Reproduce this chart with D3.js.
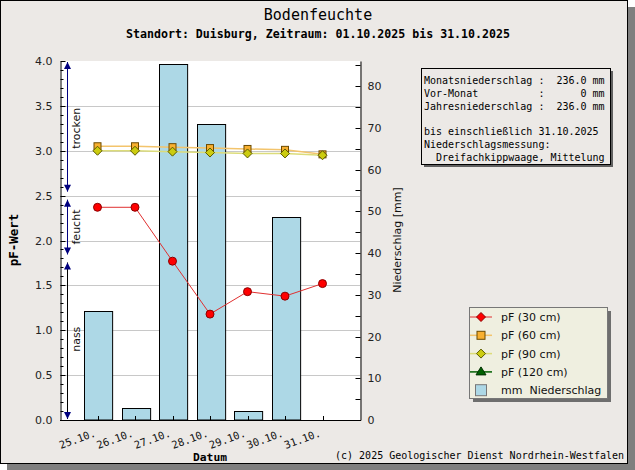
<!DOCTYPE html>
<html>
<head>
<meta charset="utf-8">
<script src="https://cdn.jsdelivr.net/npm/d3@7"></script>
<style>
  body { margin: 0; background: #ffffff; }
  svg text { white-space: pre; }
</style>
</head>
<body>
<div id="chart"></div>
<script>
// values
const days = ['25.10.', '26.10.', '27.10.', '28.10.', '29.10.', '30.10.', '31.10.'];
const pf30 = [2.37, 2.37, 1.77, 1.18, 1.43, 1.38, 1.52];
const pf60 = [3.05, 3.05, 3.04, 3.03, 3.02, 3.01, 2.96];
const pf90 = [3.00, 3.00, 2.99, 2.98, 2.97, 2.97, 2.95];
const rain = [26.0, 2.8, 85.4, 71.0, 2.2, 48.6, 0];
const pfTicks = [0, 0.5, 1.0, 1.5, 2.0, 2.5, 3.0, 3.5, 4.0];
const rainTicks = [0, 10, 20, 30, 40, 50, 60, 70, 80];
const zoneLabels = ['trocken', 'feucht', 'nass'];
const zoneFrom = [4.0, 2.5, 1.8];
const zoneTo = [2.5, 1.8, 0.0];
const legendLabels = ['pF (30 cm)', 'pF (60 cm)', 'pF (90 cm)', 'pF (120 cm)', 'mm  Niederschlag'];
const infoLines = [
  'Monatsniederschlag :  236.0 mm',
  'Vor-Monat          :      0 mm',
  'Jahresniederschlag :  236.0 mm',
  '',
  'bis einschließlich 31.10.2025',
  'Niederschlagsmessung:',
  '  Dreifachkippwaage, Mittelung'
];

const W = 635, H = 470;
const plot = { left: 60, right: 360, top: 61, bottom: 420 };
const mono = '"DejaVu Sans Mono", monospace';
const sans = '"DejaVu Sans", sans-serif';

const svg = d3.select('#chart').append('svg')
  .attr('width', W).attr('height', H);

// frame with shadow
svg.append('rect').attr('x', 7).attr('y', 7).attr('width', 628).attr('height', 463).attr('fill', '#7f7f7f');
svg.append('rect').attr('x', 0.5).attr('y', 0.5).attr('width', 627).attr('height', 463)
  .attr('fill', '#ece9e6').attr('stroke', '#000');

// scales
const x = d3.scalePoint().domain(days).range([plot.left, plot.right]).padding(1);
const y = d3.scaleLinear().domain([0, 4]).range([plot.bottom, plot.top]);
const y2 = d3.scaleLinear().domain([0, 86]).range([plot.bottom, plot.top]);
const barW = x.step() * 0.75;

// plot background + grid
svg.append('rect').attr('x', plot.left).attr('y', plot.top)
  .attr('width', plot.right - plot.left).attr('height', plot.bottom - plot.top).attr('fill', '#fff');
svg.append('g').selectAll('line').data(pfTicks.slice(1, -1)).join('line')
  .attr('x1', plot.left).attr('x2', plot.right)
  .attr('y1', d => Math.round(y(d)) + 0.5).attr('y2', d => Math.round(y(d)) + 0.5)
  .attr('stroke', '#c8c8c8');

// bars
svg.append('g').selectAll('rect').data(rain.map((v, i) => ({ day: days[i], v }))).join('rect')
  .filter(d => d.v > 0)
  .attr('x', d => Math.round(x(d.day) - barW / 2 + 1) + 0.5)
  .attr('y', d => Math.round(y2(d.v)) + 0.5)
  .attr('width', barW)
  .attr('height', d => plot.bottom - Math.round(y2(d.v)) - 0.5)
  .attr('fill', '#add8e6').attr('stroke', '#000');

// x ticks (inside)
svg.append('g').selectAll('line').data(days).join('line')
  .attr('x1', d => Math.round(x(d)) + 0.5).attr('x2', d => Math.round(x(d)) + 0.5)
  .attr('y1', plot.bottom).attr('y2', plot.bottom - 4).attr('stroke', '#000');

// left axis
const leftAxis = d3.axisLeft(y).tickValues(pfTicks).tickFormat(d3.format('.1f')).tickSize(0).tickPadding(8);
const gl = svg.append('g').attr('transform', `translate(${plot.left + 0.5},0)`).call(leftAxis);
gl.select('.domain').attr('stroke', '#000');
gl.selectAll('text').attr('font-family', sans).attr('font-size', 11).attr('fill', '#222');
const minorPf = d3.range(0, 40.5, 1).map(d => d / 10);
gl.append('g').selectAll('line').data(minorPf).join('line')
  .attr('x1', 0).attr('x2', d => (Math.round(d * 10) % 5 === 0 ? 5 : 3))
  .attr('y1', d => Math.round(y(d)) + 0.5).attr('y2', d => Math.round(y(d)) + 0.5)
  .attr('stroke', '#000');

// right axis
const rightAxis = d3.axisRight(y2).tickValues(rainTicks).tickSize(0).tickPadding(7);
const gr = svg.append('g').attr('transform', `translate(${plot.right + 0.5},0)`).call(rightAxis);
gr.select('.domain').attr('stroke', '#000');
gr.selectAll('text').attr('font-family', sans).attr('font-size', 11).attr('fill', '#222');
gr.append('g').selectAll('line').data(d3.range(0, 86, 5)).join('line')
  .attr('x1', 0).attr('x2', -5)
  .attr('y1', d => Math.round(y2(d)) + 0.5).attr('y2', d => Math.round(y2(d)) + 0.5)
  .attr('stroke', '#000');

// bottom axis line
svg.append('line').attr('x1', plot.left).attr('x2', plot.right + 1)
  .attr('y1', plot.bottom + 0.5).attr('y2', plot.bottom + 0.5).attr('stroke', '#000');

// x labels
svg.append('g').selectAll('text').data(days).join('text')
  .attr('transform', d => `translate(${x(d) - 1},${plot.bottom + 16}) rotate(-20)`)
  .attr('text-anchor', 'end').attr('font-family', mono).attr('font-size', 10.5).attr('fill', '#111')
  .text(d => d);

// zone arrows
const ax = 67.5;
const zones = svg.append('g');
zoneLabels.forEach((lab, i) => {
  const y1 = y(zoneFrom[i]) + (i === 0 ? 1 : 4);
  const y2p = y(zoneTo[i]) - (i === 2 ? 1 : 4);
  zones.append('line').attr('x1', ax).attr('x2', ax).attr('y1', y1).attr('y2', y2p)
    .attr('stroke', i === 2 ? '#000' : '#00007f').attr('stroke-width', 1);
  zones.append('path').attr('d', `M${ax},${y1} l-3.5,7 l7,0 z`).attr('fill', '#00007f');
  zones.append('path').attr('d', `M${ax},${y2p} l-3.5,-7 l7,0 z`).attr('fill', '#00007f');
  const mid = (y(zoneFrom[i]) + y(zoneTo[i])) / 2;
  zones.append('text')
    .attr('transform', `translate(${ax + 12},${mid}) rotate(-90)`)
    .attr('text-anchor', 'middle').attr('font-family', sans).attr('font-size', 11).attr('fill', '#111')
    .text(lab);
});

// pF lines
const line = d3.line().x((d, i) => x(days[i])).y(d => y(d));
svg.append('path').attr('d', line(pf60)).attr('fill', 'none').attr('stroke', '#f3c46c').attr('stroke-width', 1.5);
svg.append('path').attr('d', line(pf90)).attr('fill', 'none').attr('stroke', '#dcdc7a').attr('stroke-width', 1.5);
svg.append('path').attr('d', line(pf30)).attr('fill', 'none').attr('stroke', '#e03030').attr('stroke-width', 1);

// markers
svg.append('g').selectAll('rect').data(pf60).join('rect')
  .attr('x', (d, i) => x(days[i]) - 3.5).attr('y', d => y(d) - 3.5)
  .attr('width', 7).attr('height', 7)
  .attr('fill', '#f8b030').attr('stroke', '#6b4a00');
svg.append('g').selectAll('path').data(pf90).join('path')
  .attr('d', (d, i) => `M${x(days[i])},${y(d) - 4.5} l4.5,4.5 l-4.5,4.5 l-4.5,-4.5 z`)
  .attr('fill', '#cccc10').attr('stroke', '#5a5a00');
svg.append('g').selectAll('circle').data(pf30).join('circle')
  .attr('cx', (d, i) => x(days[i])).attr('cy', d => y(d)).attr('r', 4)
  .attr('fill', '#ff0000').attr('stroke', '#8b0000');

// titles
svg.append('text').attr('x', 318).attr('y', 20).attr('text-anchor', 'middle')
  .attr('font-family', mono).attr('font-size', 15).attr('fill', '#000').text('Bodenfeuchte');
svg.append('text').attr('x', 318).attr('y', 38).attr('text-anchor', 'middle')
  .attr('font-family', mono).attr('font-weight', 'bold').attr('font-size', 11.6).attr('fill', '#000')
  .text('Standort: Duisburg, Zeitraum: 01.10.2025 bis 31.10.2025');
svg.append('text').attr('transform', 'translate(18,240) rotate(-90)').attr('text-anchor', 'middle')
  .attr('font-family', mono).attr('font-weight', 'bold').attr('font-size', 12.5).attr('fill', '#000').text('pF-Wert');
svg.append('text').attr('transform', 'translate(401,240) rotate(-90)').attr('text-anchor', 'middle')
  .attr('font-family', sans).attr('font-size', 11).attr('fill', '#111').text('Niederschlag [mm]');
svg.append('text').attr('x', 210).attr('y', 461).attr('text-anchor', 'middle')
  .attr('font-family', mono).attr('font-weight', 'bold').attr('font-size', 11.3).attr('fill', '#000').text('Datum');
svg.append('text').attr('x', 624).attr('y', 459).attr('text-anchor', 'end')
  .attr('font-family', mono).attr('font-size', 10).attr('fill', '#000')
  .text('(c) 2025 Geologischer Dienst Nordrhein-Westfalen');

// info box
svg.append('rect').attr('x', 424).attr('y', 71).attr('width', 189).attr('height', 96).attr('fill', '#606060');
svg.append('rect').attr('x', 421.5).attr('y', 68.5).attr('width', 189).attr('height', 96)
  .attr('fill', '#ece9e6').attr('stroke', '#000');
svg.append('g').selectAll('text').data(infoLines).join('text')
  .attr('x', 424).attr('y', (d, i) => 84 + i * 12.8)
  .attr('font-family', mono).attr('font-size', 10).attr('fill', '#000')
  .text(d => d);

// legend
const lg = svg.append('g');
lg.append('rect').attr('x', 473).attr('y', 311).attr('width', 138).attr('height', 91).attr('fill', '#6e6e6e');
lg.append('rect').attr('x', 469.5).attr('y', 307.5).attr('width', 138).attr('height', 91)
  .attr('fill', '#efefe0').attr('stroke', '#777');
const legendColors = ['#e03030', '#f3c46c', '#dcdc7a', '#006000'];
legendLabels.forEach((lab, i) => {
  const cy = 317 + i * 18.3;
  const cx = 481;
  if (i < 4) {
    lg.append('line').attr('x1', cx - 11).attr('x2', cx + 11).attr('y1', cy).attr('y2', cy)
      .attr('stroke', legendColors[i]).attr('stroke-width', i === 0 ? 1 : 1.5);
  }
  if (i === 0) lg.append('path').attr('d', `M${cx},${cy - 4.5} l4.5,4.5 l-4.5,4.5 l-4.5,-4.5 z`)
    .attr('fill', '#ff0000').attr('stroke', '#8b0000');
  if (i === 1) lg.append('rect').attr('x', cx - 4).attr('y', cy - 4).attr('width', 8).attr('height', 8)
    .attr('fill', '#f8b030').attr('stroke', '#6b4a00');
  if (i === 2) lg.append('path').attr('d', `M${cx},${cy - 4.5} l4.5,4.5 l-4.5,4.5 l-4.5,-4.5 z`)
    .attr('fill', '#cccc10').attr('stroke', '#5a5a00');
  if (i === 3) lg.append('path').attr('d', `M${cx},${cy - 5} l5,8 l-10,0 z`)
    .attr('fill', '#006000').attr('stroke', '#003000');
  if (i === 4) lg.append('rect').attr('x', cx - 5.5).attr('y', cy - 5.5).attr('width', 11).attr('height', 11)
    .attr('fill', '#add8e6').attr('stroke', '#777');
  lg.append('text').attr('x', 501).attr('y', cy + 4)
    .attr('font-family', sans).attr('font-size', 11).attr('fill', '#111').text(lab);
});
</script>
</body>
</html>
